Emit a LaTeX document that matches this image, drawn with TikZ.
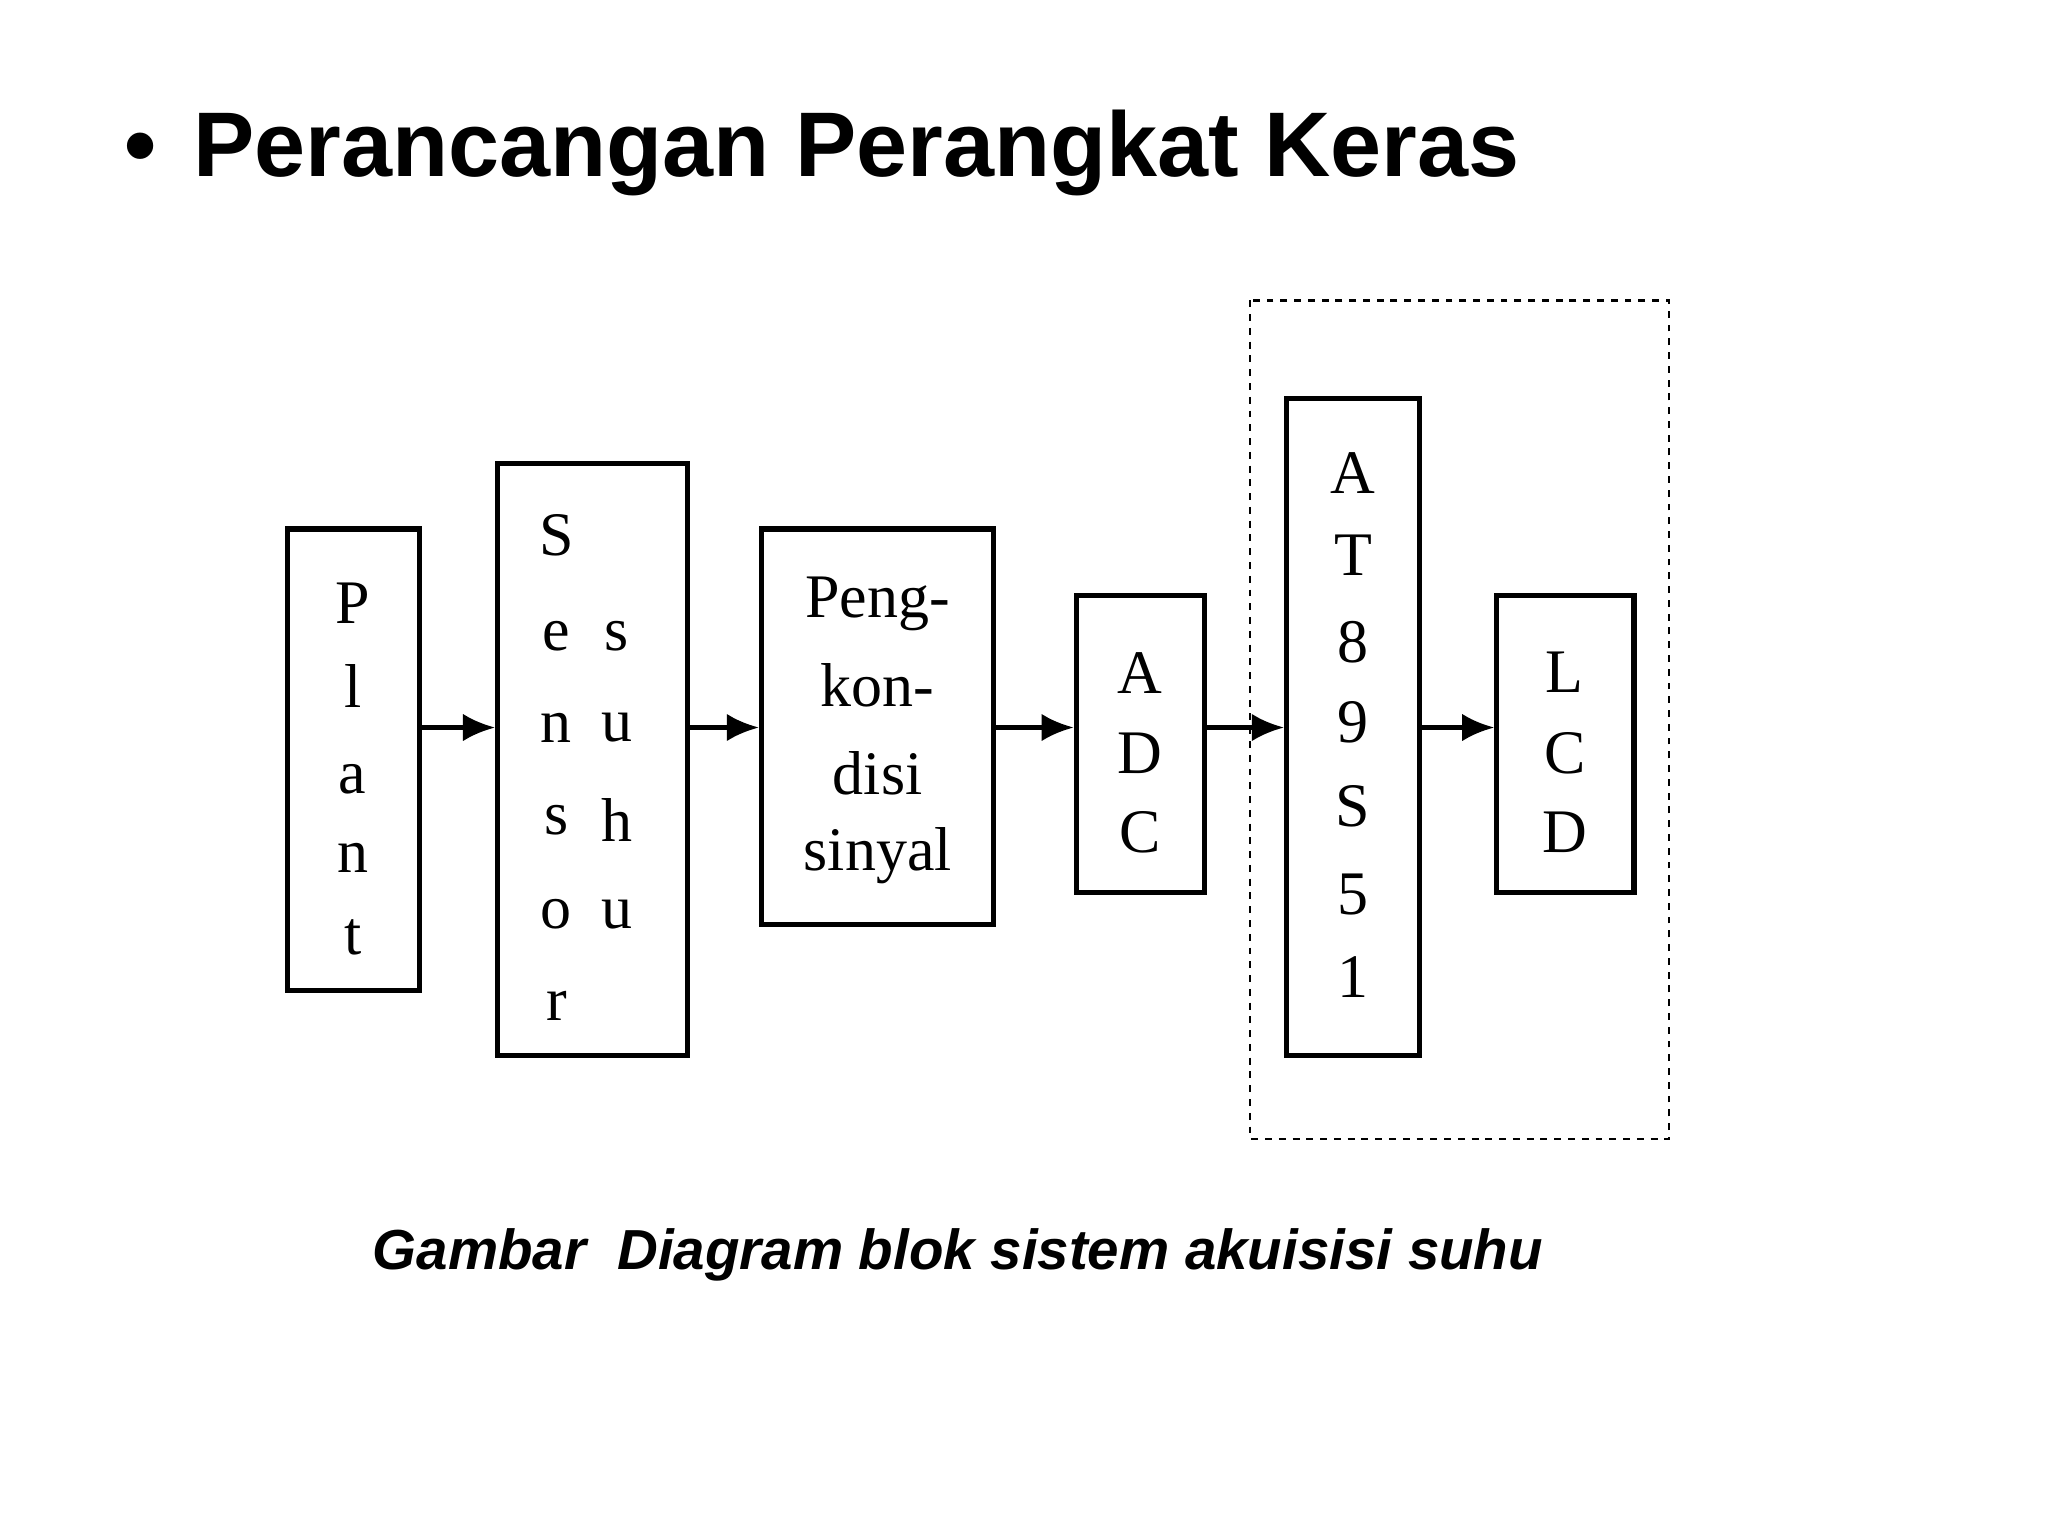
\documentclass[tikz,border=0pt]{standalone}
\usepackage{fontspec}
\setmainfont{Liberation Serif}
\newfontfamily\hd{Liberation Sans}
\usetikzlibrary{arrows.meta}
\begin{document}
\begin{tikzpicture}[x=0.02cm,y=-0.02cm,
 blk/.style={draw,line width=2.2pt,minimum width=0pt,minimum height=0pt,inner sep=0pt},
 ltr/.style={font=\fontsize{27}{27}\selectfont,anchor=center},
 arr/.style={line width=2pt,-{Latex[length=14pt,width=12pt]}}]
\useasboundingbox (0,0) rectangle (1568,1176);
\node[blk,minimum width=101*0.02cm,minimum height=353*0.02cm] (plant) at (270.5,581.5) {};
\node[blk,minimum width=145*0.02cm,minimum height=453*0.02cm] (sensor) at (453.5,581.5) {};
\node[blk,minimum width=178*0.02cm,minimum height=303*0.02cm] (peng) at (672,556.5) {};
\node[blk,minimum width=98*0.02cm,minimum height=227*0.02cm] (adc) at (873,569.5) {};
\node[blk,minimum width=102*0.02cm,minimum height=503*0.02cm] (at) at (1036,556.5) {};
\node[blk,minimum width=105*0.02cm,minimum height=227*0.02cm] (lcd) at (1198.5,569.5) {};
\draw[dashed,line width=1pt] (957,230) rectangle (1278,872);
\coordinate (y) at (0,557);
\draw[arr] (plant.east |- y) -- (sensor.west |- y);
\draw[arr] (sensor.east |- y) -- (peng.west |- y);
\draw[arr] (peng.east |- y) -- (adc.west |- y);
\draw[arr] (adc.east |- y) -- (at.west |- y);
\draw[arr] (at.east |- y) -- (lcd.west |- y);
\foreach \c/\yy [count=\i] in {P/462,l/525,a/597,n/657,t/718} \node[ltr] (p\i) at (270,\yy) {\c};
\foreach \c/\yy [count=\i] in {S/410,e/487,n/557,s/628,o/700,r/770} \node[ltr] (sl\i) at (426,\yy) {\c};
\foreach \c/\yy [count=\i] in {s/487,u/557,h/628,u/700} \node[ltr] (sr\i) at (472,\yy) {\c};
\foreach \c/\yy [count=\i] in {Peng-/462,kon-/525,disi/592,sinyal/655} \node[ltr] (k\i) at (672,\yy) {\c};
\foreach \c/\yy [count=\i] in {A/515,D/577,C/637} \node[ltr] (a\i) at (873,\yy) {\c};
\foreach \c/\yy [count=\i] in {A/362,T/425,8/492,9/553,S/617,5/685,1/748} \node[ltr] (m\i) at (1036,\yy) {\c};
\foreach \c/\yy [count=\i] in {L/515,C/577,D/637} \node[ltr] (l\i) at (1198,\yy) {\c};
\node[anchor=base west,inner sep=0pt,font=\hd\bfseries\fontsize{40}{40}\selectfont] (title) at (95,135) {•\hspace{0.4em}Perancangan Perangkat Keras};
\node[anchor=base west,inner sep=0pt,font=\hd\bfseries\itshape\fontsize{24.6}{25}\selectfont] (cap) at (285,972) {Gambar\ \ Diagram blok sistem akuisisi suhu};
\end{tikzpicture}
\end{document}
